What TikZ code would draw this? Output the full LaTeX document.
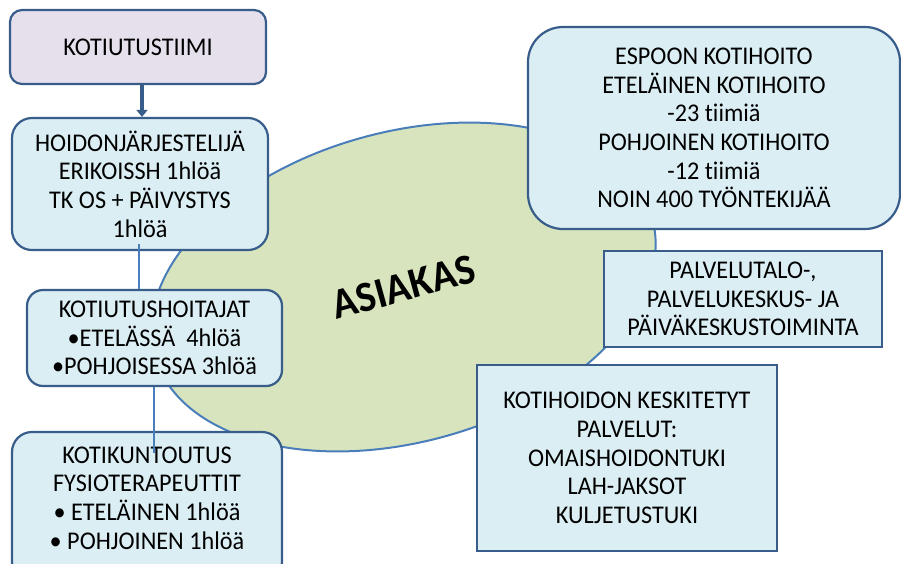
\documentclass[tikz,border=0pt]{standalone}
\usepackage{fontspec}
\setmainfont{Carlito}[Ligatures={NoCommon}, FakeStretch=0.95]
\usetikzlibrary{shapes.geometric,arrows.meta}
\definecolor{boxline}{HTML}{385D8A}
\definecolor{ovalline}{HTML}{4A7EBB}
\definecolor{ovalfill}{HTML}{D7E4BD}
\definecolor{boxfill}{HTML}{DBEEF4}
\definecolor{teamfill}{HTML}{E5E0EC}
\newcommand{\boxfont}{\fontsize{25.5}{28.6}\selectfont}
\begin{document}
\begin{tikzpicture}[x=1pt,y=-1pt,
  txt/.style={font=\boxfont, align=center, inner sep=0pt},
  rbox/.style={draw=boxline, line width=2.2pt, fill=boxfill, rounded corners=#1,
    inner sep=0pt, font=\boxfont, align=center},
  rbox/.default=16pt,
  sbox/.style={draw=boxline, line width=2.2pt, fill=boxfill, inner sep=0pt,
    font=\boxfont, align=center},
  thickarrow/.style={draw=boxline, line width=3.5pt, -{Triangle[length=7pt,width=11pt]}},
  thinlink/.style={draw=ovalline, line width=1.4pt}]
\useasboundingbox (0,0) rectangle (901,563);
\clip (0,0) rectangle (901,563);

% central client oval
\node[ellipse, draw=ovalline, line width=2pt, fill=ovalfill,
  minimum width=516pt, minimum height=310pt, rotate=15.4, inner sep=0pt,
  font=\fontsize{43}{50}\selectfont\bfseries] (asiakas) at (403.5,287) {ASIAKAS};

% left column
\node[rbox=12pt, fill=teamfill, minimum width=256pt, minimum height=74pt] (k1) at (138,47) {KOTIUTUSTIIMI};
\node[rbox=20pt, minimum width=256pt, minimum height=132pt] (k2) at (140,184)
  {HOIDONJÄRJESTELIJÄ\\ERIKOISSH 1hlöä\\TK OS + PÄIVYSTYS\\1hlöä};
\node[rbox=16pt, minimum width=255pt, minimum height=96pt] (k3) at (154.5,338)
  {KOTIUTUSHOITAJAT\\•ETELÄSSÄ\ \ 4hlöä\\•POHJOISESSA 3hlöä};
\node[rbox=20pt, minimum width=270pt, minimum height=150pt] (k4) at (147,507) {};
\node[txt] (k4t) at (147,498)
  {KOTIKUNTOUTUS\\FYSIOTERAPEUTTIT\\• ETELÄINEN 1hlöä\\• POHJOINEN 1hlöä};

% right column
\node[rbox=35pt, minimum width=372pt, minimum height=202pt] (k5) at (714,128)
  {ESPOON KOTIHOITO\\ETELÄINEN KOTIHOITO\\-23 tiimiä\\POHJOINEN KOTIHOITO\\-12 tiimiä\\NOIN 400 TYÖNTEKIJÄÄ};
\node[sbox, minimum width=278pt, minimum height=96pt] (k6) at (743,299)
  {PALVELUTALO-,\\PALVELUKESKUS- JA\\PÄIVÄKESKUSTOIMINTA};
\node[sbox, minimum width=300pt, minimum height=186pt] (k7) at (627,458)
  {KOTIHOIDON KESKITETYT\\PALVELUT:\\OMAISHOIDONTUKI\\LAH-JAKSOT\\KULJETUSTUKI};

% connectors
\coordinate (x139) at (139,0);
\coordinate (k4in) at (154,453);
\draw[thickarrow] ([xshift=4pt]k1.south) -- ([xshift=2pt]k2.north);
\draw[thinlink] ([yshift=7pt]k2.south -| x139) -- (k3.north -| x139);
\draw[thinlink] (k3.south -| k4in) -- (k4in);
\end{tikzpicture}
\end{document}
